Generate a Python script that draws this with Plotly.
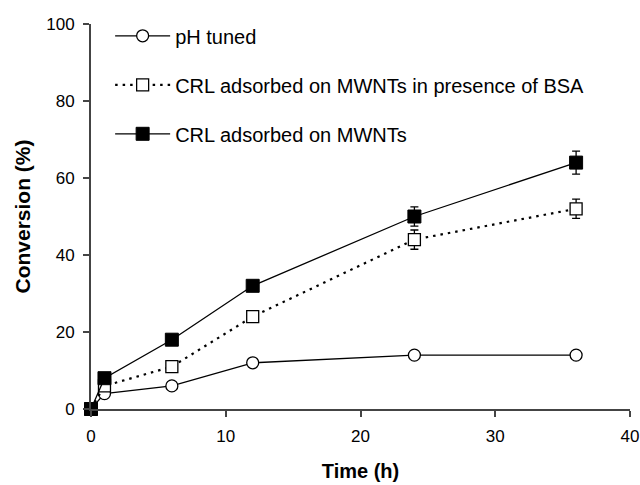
import plotly.graph_objects as go

time_h = [0, 1, 6, 12, 24, 36]
ph_tuned = [0, 4, 6, 12, 14, 14]
bsa = [0, 6, 11, 24, 44, 52]
bsa_err = [0, 0, 0, 0, 2.5, 2.5]
mwnt = [0, 8, 18, 32, 50, 64]
mwnt_err = [0, 0, 0, 1, 2.5, 3]

fig = go.Figure()
fig.add_trace(go.Scatter(
    x=time_h, y=ph_tuned, name="pH tuned", mode="lines+markers",
    line=dict(color="black", width=1.3),
    marker=dict(symbol="circle", size=12, color="white", line=dict(color="black", width=1.3)),
    cliponaxis=False, legendgroup="a"))
fig.add_trace(go.Scatter(
    x=time_h, y=bsa, name="CRL adsorbed on MWNTs in presence of BSA", mode="lines+markers",
    line=dict(color="black", width=2.2, dash="2.5px,5px"),
    marker=dict(symbol="square", size=12, color="white", line=dict(color="black", width=1.3)),
    error_y=dict(type="data", array=bsa_err, color="black", thickness=1.3, width=4),
    cliponaxis=False, legendgroup="b"))
fig.add_trace(go.Scatter(
    x=time_h, y=mwnt, name="CRL adsorbed on MWNTs", mode="lines+markers",
    line=dict(color="black", width=1.3),
    marker=dict(symbol="square", size=13, color="black", line=dict(color="black", width=1)),
    error_y=dict(type="data", array=mwnt_err, color="black", thickness=1.3, width=4),
    cliponaxis=False, legendgroup="c"))

fig.update_layout(
    width=640, height=485,
    margin=dict(l=91, r=10, t=24, b=76),
    paper_bgcolor="white", plot_bgcolor="white",
    font=dict(family="Liberation Sans, Arial, sans-serif", size=17, color="black"),
    showlegend=True,
    legend=dict(x=0.0355, y=1.02, xanchor="left", yanchor="top",
                bgcolor="rgba(0,0,0,0)", tracegroupgap=20, itemwidth=55,
                font=dict(size=20)),
    xaxis=dict(range=[0, 40], tickvals=[0, 10, 20, 30, 40], showgrid=False, zeroline=False,
               showline=True, linecolor="#444", linewidth=2, ticks="outside", ticklen=6,
               tickcolor="#444", tickwidth=1.5, tickfont=dict(size=17), ticklabelstandoff=5,
               automargin=False,
               title=dict(text="<b>Time (h)</b>", font=dict(size=20), standoff=19)),
    yaxis=dict(range=[0, 100], tickvals=[0, 20, 40, 60, 80, 100], showgrid=False, zeroline=False,
               showline=True, linecolor="#444", linewidth=2, ticks="outside", ticklen=6,
               tickcolor="#444", tickwidth=1.5, tickfont=dict(size=17), ticklabelstandoff=5,
               automargin=False,
               title=dict(text="<b>Conversion (%)</b>", font=dict(size=21), standoff=10)),
)

fig.write_html("out.html", config={"displayModeBar": False},
               post_script="document.body.style.margin='0';")
